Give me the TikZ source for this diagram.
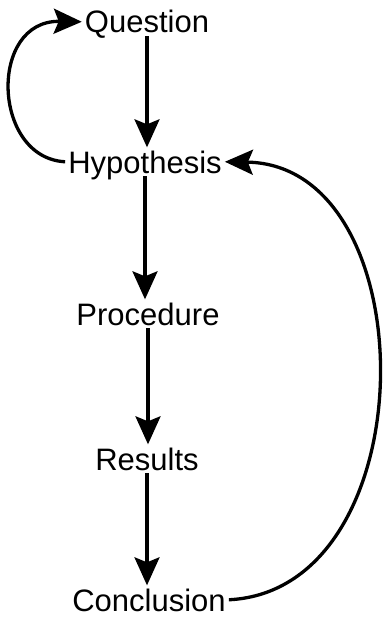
\documentclass[tikz,border=0pt]{standalone}
\usepackage{fontspec}
\setmainfont{Liberation Sans}
\usetikzlibrary{arrows.meta}
\tikzset{
    stage/.style={font=\fontsize{31}{36}\selectfont, inner sep=3pt, text depth=0pt, anchor=base},
    flow/.style={-{Stealth[length=28pt, width=25pt, inset=5pt]}, line width=3.3pt}
}
\begin{document}
\begin{tikzpicture}[x=1pt, y=-1pt]
\useasboundingbox (0,0) rectangle (383,618);

% Stages of the method
\node[stage] (question)   at (147,33)  {Question};
\node[stage] (hypothesis) at (145,173) {Hypothesis};
\node[stage] (procedure)  at (148,325) {Procedure};
\node[stage] (results)    at (147,470) {Results};
\node[stage] (conclusion) at (149,611) {Conclusion};

% Straight steps down
\draw[flow] (question.south) -- (question.south |- hypothesis.north);
\draw[flow] (hypothesis.south) -- (hypothesis.south |- procedure.north);
\draw[flow] (procedure.south) -- (procedure.south |- results.north);
\draw[flow] (results.south) -- (results.south |- conclusion.north);

% Loops back
\draw[flow] (hypothesis.west) .. controls (-8,158) and (-12,20) .. (question.west);
\draw[flow] (conclusion.east) .. controls (428,590) and (428,165) .. (hypothesis.east);
\end{tikzpicture}
\end{document}
